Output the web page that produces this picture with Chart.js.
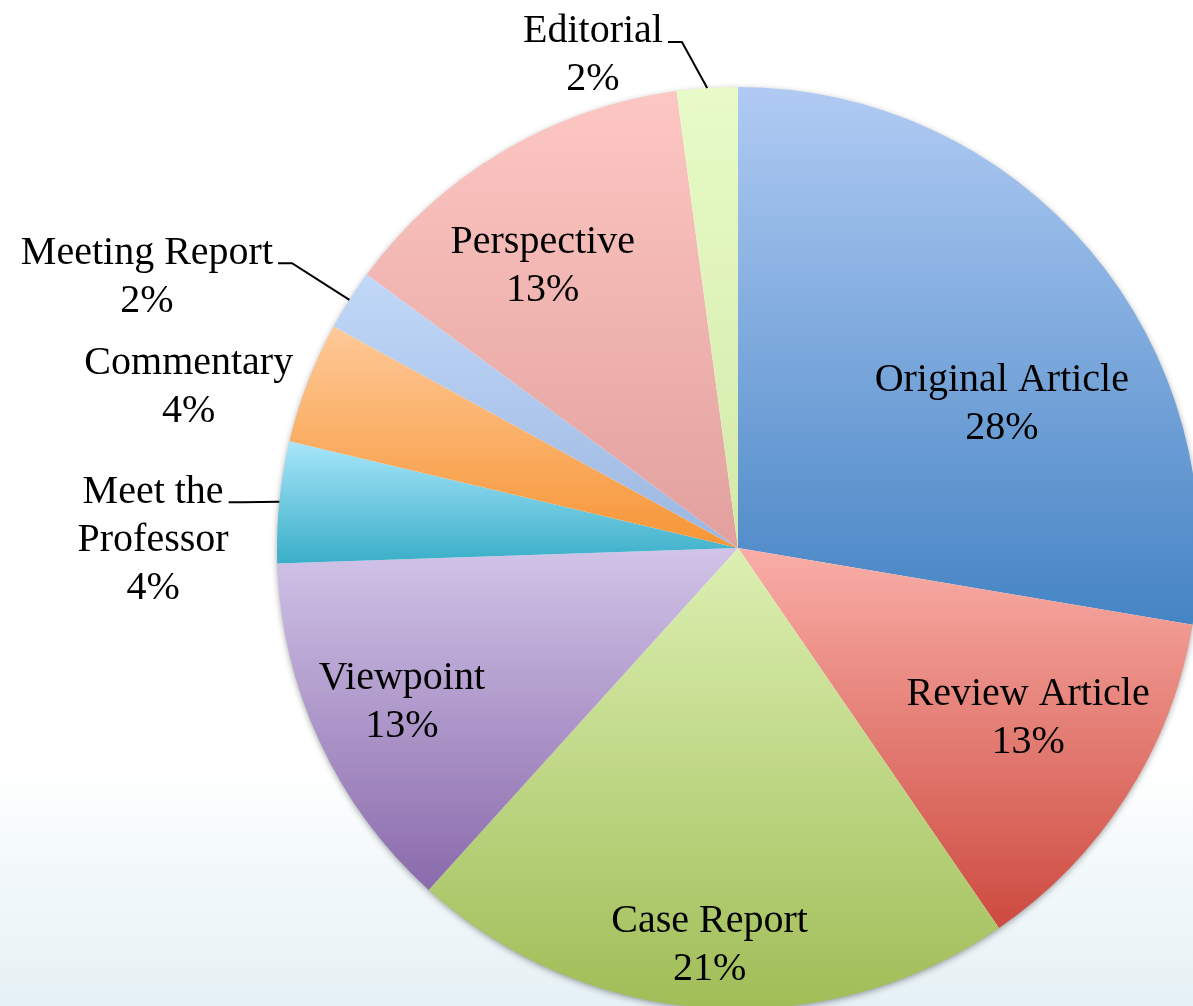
<html><head><meta charset="utf-8">
<script src="https://cdn.jsdelivr.net/npm/chart.js@4"></script>
<style>
  body { margin:0; background:#fff; }
  #wrap { position:relative; width:1193px; height:1006px; overflow:hidden;
          background: linear-gradient(to bottom, #ffffff 0%, #ffffff 76%, #f3f9fb 86%, #e6f1f5 100%); }
  #myChart { position:absolute; left:0; top:0; }
</style>
</head>
<body>
<div id="wrap">
  <canvas id="myChart" width="1300" height="1100" style="width:1300px;height:1100px"></canvas>
</div>
<script>
// article counts, clockwise from 12 o'clock
var categories = ['Original Article', 'Review Article', 'Case Report', 'Viewpoint',
                  ['Meet the', 'Professor'], 'Commentary', 'Meeting Report', 'Perspective', 'Editorial'];
var counts = [13, 6, 10, 6, 2, 2, 1, 6, 1];

// gradient colours per slice (top -> bottom)
var topColors    = ['#b0cbf3', '#f9aea7', '#dcf0b2', '#d1c4e8', '#a8e6fa', '#fec998', '#c1d8f8', '#fdc7c3', '#e8fbc8'];
var bottomColors = ['#4584c4', '#cd4a3f', '#a0bd57', '#8a6aab', '#3aaec8', '#f79535', '#9cb6e0', '#e2a09d', '#d3e9a8'];

// label placement: distance as fraction of radius, angle shift from slice middle (deg)
var labelRadius = [0.655, 0.727, 0.857, 0.80, 1.269, 1.243, 1.413, 0.749, 1.119];
var labelShift  = [11.1, -2.5, 0.3, 0.6, -4.7, -4.5, -7.7, -3.8, -12.5];
var leaderLine  = [false, false, false, false, true, false, true, false, true];

var total = counts.reduce(function(a, b) { return a + b; }, 0);

function sliceGradient(c) {
  var chart = c.chart, i = c.dataIndex, area = chart.chartArea;
  if (!area || i === undefined) return topColors[i] || '#ccc';
  var cx = (area.left + area.right) / 2, cy = (area.top + area.bottom) / 2;
  var r = Math.min(area.right - area.left, area.bottom - area.top) / 2;
  var before = 0;
  for (var k = 0; k < i; k++) before += counts[k];
  var a0 = before / total * Math.PI * 2, a1 = (before + counts[i]) / total * Math.PI * 2;
  // angles from 12 o'clock clockwise; y = cy - r*cos(a)
  var ys = [cy, cy - r * Math.cos(a0), cy - r * Math.cos(a1)];
  if (a0 <= 0 && a1 >= 0) ys.push(cy - r);
  if (a0 <= Math.PI && a1 >= Math.PI) ys.push(cy + r);
  var top = Math.min.apply(null, ys), bot = Math.max.apply(null, ys);
  var g = chart.ctx.createLinearGradient(0, top, 0, bot);
  g.addColorStop(0, topColors[i]);
  g.addColorStop(1, bottomColors[i]);
  return g;
}

var pieShadow = {
  id: 'pieShadow',
  beforeDatasetsDraw: function(chart) {
    var arc = chart.getDatasetMeta(0).data[0];
    if (!arc) return;
    var ctx = chart.ctx;
    ctx.save();
    ctx.shadowColor = 'rgba(0,0,0,0.45)';
    ctx.shadowBlur = 7;
    ctx.shadowOffsetY = 2;
    ctx.beginPath();
    ctx.arc(arc.x, arc.y, arc.outerRadius - 1, 0, Math.PI * 2);
    ctx.fillStyle = '#fff';
    ctx.fill();
    ctx.restore();
  }
};

var sliceLabels = {
  id: 'sliceLabels',
  afterDatasetsDraw: function(chart) {
    var ctx = chart.ctx;
    var meta = chart.getDatasetMeta(0);
    var lineH = 48;
    ctx.save();
    ctx.font = '40px "Liberation Serif", "Times New Roman", serif';
    ctx.fillStyle = '#000';
    ctx.textAlign = 'center';
    ctx.textBaseline = 'alphabetic';
    meta.data.forEach(function(arc, i) {
      var p = arc.getProps(['x', 'y', 'startAngle', 'endAngle', 'outerRadius'], true);
      var mid = (p.startAngle + p.endAngle) / 2;
      var ang = mid + labelShift[i] * Math.PI / 180;
      var r = p.outerRadius * labelRadius[i];
      var lx = p.x + Math.cos(ang) * r, ly = p.y + Math.sin(ang) * r;
      var lines = [].concat(categories[i]);
      lines.push(Math.round(counts[i] / total * 100) + '%');
      var n = lines.length;
      lines.forEach(function(t, j) {
        ctx.fillText(t, lx, ly + (j - (n - 1) / 2) * lineH + 13.5);
      });
      if (leaderLine[i]) {
        var w = ctx.measureText(lines[0]).width;
        var bx = lx + w / 2 + 5, by = ly - (n - 1) / 2 * lineH + 13;
        var ex = p.x + Math.cos(mid) * p.outerRadius, ey = p.y + Math.sin(mid) * p.outerRadius;
        ctx.beginPath();
        ctx.moveTo(bx, by);
        ctx.lineTo(bx + 14, by);
        ctx.lineTo(ex, ey);
        ctx.strokeStyle = '#000';
        ctx.lineWidth = 2;
        ctx.stroke();
      }
    });
    ctx.restore();
  }
};

var ctx = document.getElementById('myChart');
var myChart = new Chart(ctx, {
  type: 'pie',
  data: {
    labels: categories,
    datasets: [{
      data: counts,
      backgroundColor: sliceGradient,
      borderWidth: 0
    }]
  },
  options: {
    responsive: false,
    animation: false,
    layout: { padding: { left: 277, right: 101, top: 87, bottom: 91 } },
    plugins: { legend: { display: false }, tooltip: { enabled: false } }
  },
  plugins: [pieShadow, sliceLabels]
});
</script>
</body></html>
